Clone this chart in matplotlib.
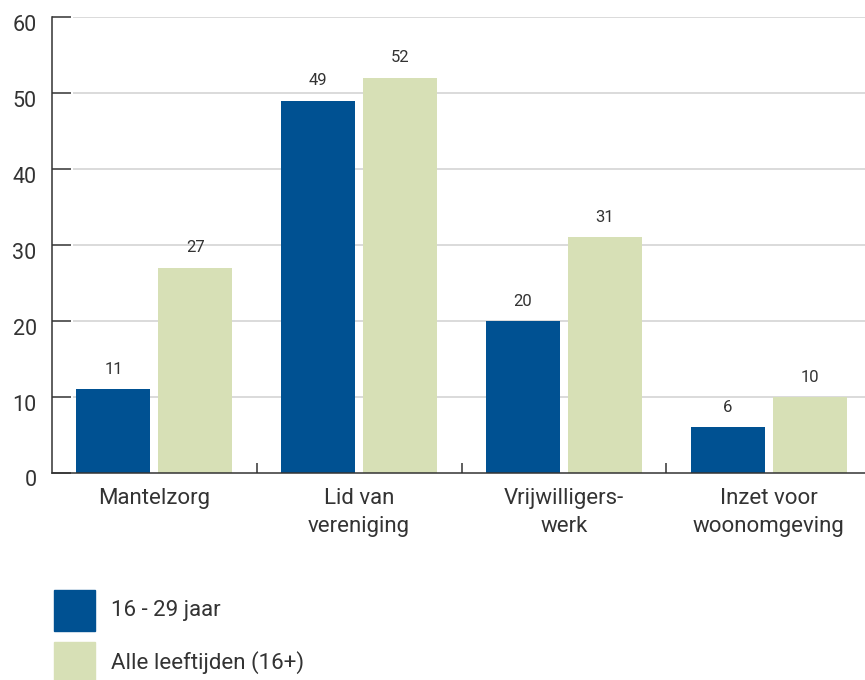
import matplotlib.pyplot as plt
from matplotlib.patches import Rectangle
from matplotlib.transforms import ScaledTranslation

categories = ["Mantelzorg", "Lid van\nvereniging", "Vrijwilligers-\nwerk", "Inzet voor\nwoonomgeving"]
young = [11, 49, 20, 6]
all_ages = [27, 52, 31, 10]
series_names = ["16 - 29 jaar", "Alle leeftijden (16+)"]

blue = "#005192"
green = "#d7e0b6"
dark = "#333333"

plt.rcParams['font.family'] = ['Roboto', 'DejaVu Sans']

fig = plt.figure(figsize=(8.65, 6.8), dpi=100)
W, H = 865, 680
ax = fig.add_axes([52 / W, (H - 473) / H, (871 - 52) / W, (473 - 17) / H])

x = range(len(categories))
bw = 0.361
b1 = ax.bar([i - 0.2 for i in x], young, bw, color=blue, label=series_names[0], zorder=3)
b2 = ax.bar([i + 0.2 for i in x], all_ages, bw, color=green, label=series_names[1], zorder=3)

for bars in (b1, b2):
    for rect in bars:
        ax.annotate(f"{rect.get_height():g}", (rect.get_x() + rect.get_width() / 2, rect.get_height()),
                    xytext=(0, 9), textcoords="offset points", ha="center", va="bottom",
                    fontsize=12, color=dark)

ax.set_xlim(-0.5, 3.5)
ax.set_ylim(0, 60)
yt = list(range(0, 61, 10))
ax.set_yticks(yt)
for v in yt[1:]:
    ax.axhline(v, xmin=22 / 819, color="#dadada", lw=1.4, zorder=1)

ax.set_xticks(list(x))
ax.set_xticklabels(categories, fontsize=16, color=dark, linespacing=1.4)
ax.set_xticks([0.5, 1.5, 2.5], minor=True)
ax.tick_params(axis="x", which="major", length=0, pad=11)
ax.tick_params(axis="x", which="minor", direction="in", length=7, width=1.1, color=dark)
ax.tick_params(axis="y", direction="in", length=14, width=1.1, color=dark, pad=11,
               labelsize=15.5, labelcolor=dark)
shift = ScaledTranslation(0, -5.5 / 100, fig.dpi_scale_trans)
for lab in ax.get_yticklabels():
    lab.set_transform(lab.get_transform() + shift)

for s in ("top", "right"):
    ax.spines[s].set_visible(False)
for s in ("left", "bottom"):
    ax.spines[s].set_color(dark)
    ax.spines[s].set_linewidth(1.1)
    ax.spines[s].set_zorder(4)

# legend drawn by hand: square 41 px, rows 52 px apart
for k, (name, col) in enumerate(zip(series_names, [blue, green])):
    top = 590 + 52 * k
    fig.add_artist(Rectangle((54 / W, (H - top - 41) / H), 41 / W, 41 / H,
                             transform=fig.transFigure, color=col))
    fig.text(111 / W, (H - top - 20.5) / H, name, fontsize=16, color=dark, va="center")

fig.savefig("out.png", dpi=100)
